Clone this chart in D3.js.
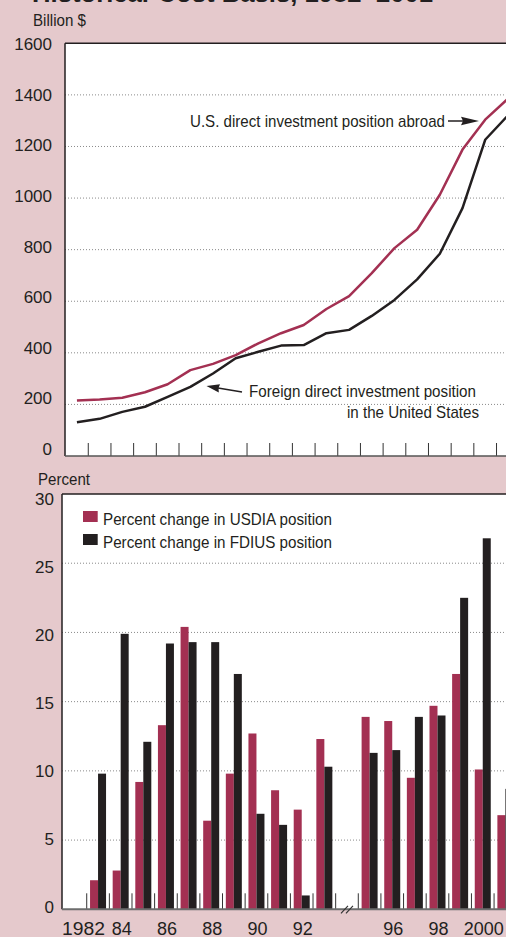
<!DOCTYPE html>
<html>
<head>
<meta charset="utf-8">
<script src="https://cdn.jsdelivr.net/npm/d3@7/dist/d3.min.js"></script>
<style>
  html, body { margin: 0; padding: 0; background: #e5c9cc; }
  svg { display: block; }
  text { font-family: "Liberation Sans", Arial, Helvetica, sans-serif; fill: #231f20; }
</style>
</head>
<body>
<script>
// ---------- DATA ----------
const years = [1982,1983,1984,1985,1986,1987,1988,1989,1990,1991,1992,1993,1994,1995,1996,1997,1998,1999,2000,2001];
const usdiaPosition = [215,219,226,247,278,333,357,391,437,476,508,570,620,709,806,877,1013,1188,1304,1385];
const fdiusPosition = [131,144,171,191,229,268,320,379,404,428,430,476,489,543,605,685,784,961,1226,1320];

const pctYears = [1983,1984,1985,1986,1987,1988,1989,1990,1991,1992,1993,1995,1996,1997,1998,1999,2000,2001];
const usdiaPctChange = [2.1,2.8,9.2,13.3,20.4,6.4,9.8,12.7,8.6,7.2,12.3,13.9,13.6,9.5,14.7,17.0,10.1,6.8];
const fdiusPctChange = [9.8,19.9,12.1,19.2,19.3,19.3,17.0,6.9,6.1,1.0,10.3,11.3,11.5,13.9,14.0,22.5,26.8,8.7];

const topTicks = [0,200,400,600,800,1000,1200,1400,1600];
const bottomTicks = [0,5,10,15,20,25,30];
const xLabelYears = [1982,1984,1986,1988,1990,1992,1996,1998,2000];
const xLabelText = ["1982","84","86","88","90","92","96","98","2000"];
const breakYear = 1994;

const seriesNames = ["Percent change in USDIA position","Percent change in FDIUS position"];

// ---------- STYLE ----------
const RED = "#a33052", BLACK = "#231f20", BG = "#e5c9cc";
const W = 506, H = 937;

const svg = d3.select("body").append("svg").attr("width", W).attr("height", H);
svg.append("rect").attr("width", W).attr("height", H).attr("fill", BG);

function txt(g, x, y, s, o = {}) {
  const t = g.append("text").attr("x", x).attr("y", y).text(s)
    .attr("font-size", o.size || 17)
    .attr("text-anchor", o.anchor || "start");
  if (o.weight) t.attr("font-weight", o.weight);
  if (o.len) t.attr("textLength", o.len).attr("lengthAdjust", "spacingAndGlyphs");
  return t;
}

// Title (cropped at top, as in the reference)
txt(svg, 32, 1.5, "Historical-Cost Basis, 1982\u20132001", {size: 26, weight: "bold", len: 401});

// ================= TOP CHART =================
const T = {left: 65, top: 43.3, bottom: 456, right: 540};
const xTop = d3.scaleBand().domain(years).range([65.6, 65.6 + 22.68 * years.length]).padding(0);
const yTop = d3.scaleLinear().domain([0, 1600]).range([T.bottom, T.top]);
const yTopLab = d3.scaleLinear().domain([0, 1600]).range([449, 44]);

const gT = svg.append("g");
gT.append("rect").attr("x", T.left).attr("y", T.top).attr("width", T.right - T.left)
  .attr("height", T.bottom - T.top).attr("fill", "#fff");

// gridlines
gT.selectAll("line.grid").data(topTicks.filter(d => d > 0 && d < 1600)).join("line")
  .attr("x1", T.left).attr("x2", T.right)
  .attr("y1", d => yTop(d)).attr("y2", d => yTop(d))
  .attr("stroke", "#8a8a8a").attr("stroke-width", 1).attr("stroke-dasharray", "1,2");

// x ticks at band boundaries
gT.selectAll("line.xt").data(years.slice(1)).join("line")
  .attr("x1", d => xTop(d)).attr("x2", d => xTop(d))
  .attr("y1", T.bottom).attr("y2", T.bottom - 13)
  .attr("stroke", "#333").attr("stroke-width", 1);

// frame
gT.append("line").attr("x1", T.left).attr("x2", T.right).attr("y1", T.top).attr("y2", T.top)
  .attr("stroke", BLACK).attr("stroke-width", 1.5);
gT.append("line").attr("x1", T.left).attr("x2", T.left).attr("y1", T.top).attr("y2", T.bottom)
  .attr("stroke", BLACK).attr("stroke-width", 1.5);
gT.append("line").attr("x1", T.left).attr("x2", T.right).attr("y1", T.bottom).attr("y2", T.bottom)
  .attr("stroke", "#555").attr("stroke-width", 1.5);

// y labels
topTicks.forEach(v => txt(gT, 52, yTopLab(v) + 6, String(v), {size: 17, anchor: "end"}));
txt(gT, 33, 26, "Billion $", {size: 17, len: 53});

// lines
const line = d3.line().x((d, i) => xTop(years[i]) + xTop.bandwidth() / 2).y(d => yTop(d));
gT.append("path").datum(usdiaPosition).attr("d", line)
  .attr("fill", "none").attr("stroke", RED).attr("stroke-width", 2.5).attr("stroke-linejoin", "round");
gT.append("path").datum(fdiusPosition).attr("d", line)
  .attr("fill", "none").attr("stroke", BLACK).attr("stroke-width", 2.5).attr("stroke-linejoin", "round");

// annotations
txt(gT, 190, 127, "U.S. direct investment position abroad", {size: 17, len: 255});
gT.append("line").attr("x1", 448).attr("x2", 466).attr("y1", 121).attr("y2", 121)
  .attr("stroke", BLACK).attr("stroke-width", 1.5);
gT.append("path").attr("d", "M479,121 L461,116.8 L463,121 L461,125.2 Z").attr("fill", BLACK);

txt(gT, 249, 397, "Foreign direct investment position", {size: 17, len: 227});
txt(gT, 479, 418, "in the United States", {size: 17, anchor: "end", len: 132});
gT.append("line").attr("x1", 242).attr("x2", 218).attr("y1", 392).attr("y2", 388)
  .attr("stroke", BLACK).attr("stroke-width", 1.5);
gT.append("path").attr("d", "M206.5,386 L220,384.3 L218.5,388 L218.8,392.5 Z").attr("fill", BLACK);

// ================= BOTTOM CHART =================
const B = {left: 62, top: 494, bottom: 909.3, right: 540};
const xBot = d3.scaleBand().domain(years).range([64.1, 64.1 + 22.63 * years.length]).padding(0);
const yBot = d3.scaleLinear().domain([0, 30]).range([B.bottom, B.top]);
const yBotLab = d3.scaleLinear().domain([0, 30]).range([907, 499]);

const gB = svg.append("g");
gB.append("rect").attr("x", B.left).attr("y", B.top).attr("width", B.right - B.left)
  .attr("height", B.bottom - B.top).attr("fill", "#fff");

gB.selectAll("line.grid").data(bottomTicks.filter(d => d > 0 && d < 30)).join("line")
  .attr("x1", B.left).attr("x2", B.right)
  .attr("y1", d => yBot(d)).attr("y2", d => yBot(d))
  .attr("stroke", "#8a8a8a").attr("stroke-width", 1).attr("stroke-dasharray", "1,2");

const barW = 8;
const pctData = pctYears.map((y, i) => ({year: y, a: usdiaPctChange[i], b: fdiusPctChange[i]}));
gB.selectAll("rect.usdia").data(pctData).join("rect")
  .attr("x", d => xBot(d.year) + xBot.bandwidth() / 2 - barW)
  .attr("width", barW)
  .attr("y", d => yBot(d.a)).attr("height", d => yBot(0) - yBot(d.a))
  .attr("fill", RED);
gB.selectAll("rect.fdius").data(pctData).join("rect")
  .attr("x", d => xBot(d.year) + xBot.bandwidth() / 2)
  .attr("width", barW)
  .attr("y", d => yBot(d.b)).attr("height", d => yBot(0) - yBot(d.b))
  .attr("fill", BLACK);

// x ticks
gB.selectAll("line.xt").data(years.slice(1)).join("line")
  .attr("x1", d => xBot(d)).attr("x2", d => xBot(d))
  .attr("y1", B.bottom).attr("y2", B.bottom - 16)
  .attr("stroke", "#333").attr("stroke-width", 1);

// frame
gB.append("line").attr("x1", B.left).attr("x2", B.right).attr("y1", B.top).attr("y2", B.top)
  .attr("stroke", BLACK).attr("stroke-width", 1.5);
gB.append("line").attr("x1", B.left).attr("x2", B.left).attr("y1", B.top).attr("y2", B.bottom)
  .attr("stroke", BLACK).attr("stroke-width", 1.5);
gB.append("line").attr("x1", B.left).attr("x2", B.right).attr("y1", B.bottom).attr("y2", B.bottom)
  .attr("stroke", "#6d6d6d").attr("stroke-width", 2);

// axis break mark
const bx = xBot(breakYear) + xBot.bandwidth() / 2;
gB.append("path").attr("d", `M${bx-6},${B.bottom+4} L${bx+1},${B.bottom-3.5} M${bx-1},${B.bottom+4} L${bx+6},${B.bottom-3.5}`)
  .attr("stroke", "#333").attr("stroke-width", 1.2).attr("fill", "none");

// y labels
bottomTicks.forEach(v => txt(gB, 54, yBotLab(v) + 6, String(v), {size: 17, anchor: "end"}));
txt(gB, 38, 485, "Percent", {size: 17, len: 52});

// x labels
xLabelYears.forEach((y, i) => {
  if (i === 0) txt(gB, 62, 934.5, xLabelText[i], {size: 18, len: 43});
  else txt(gB, xBot(y) + xBot.bandwidth() / 2 + 1, 934.5, xLabelText[i], {size: 18, anchor: "middle"});
});

// legend
const legColors = [RED, BLACK];
seriesNames.forEach((n, i) => {
  const ly = 511 + i * 23;
  gB.append("rect").attr("x", 83).attr("y", ly).attr("width", 14.7).attr("height", 11).attr("fill", legColors[i]);
  txt(gB, 103, ly + 14, n, {size: 17, len: 229});
});
</script>
</body>
</html>
